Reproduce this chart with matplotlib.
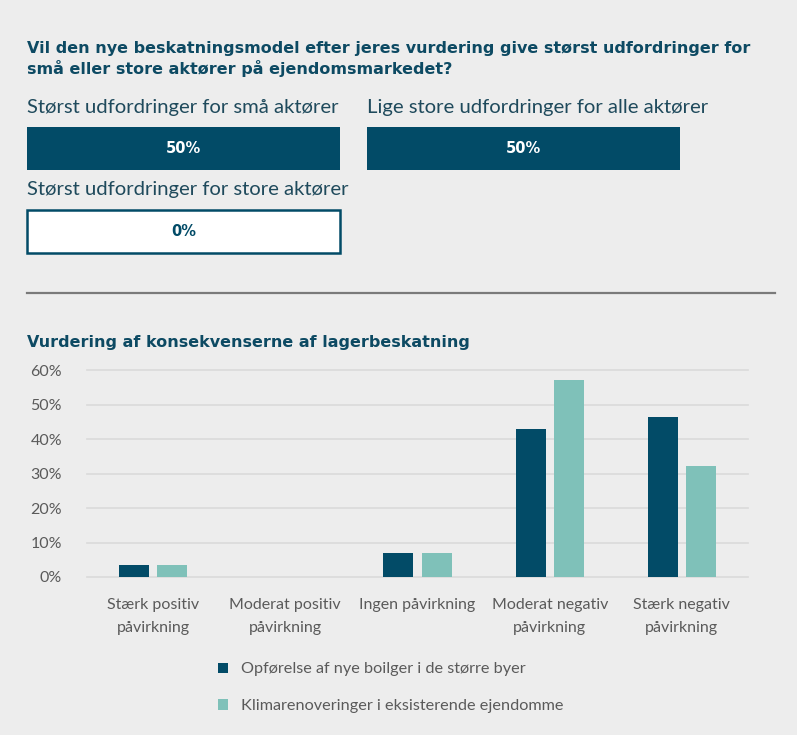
import numpy as np
import matplotlib.pyplot as plt
from matplotlib.patches import Rectangle

# colours
BG = '#ededed'
DARK = '#024b67'
LIGHT = '#7fc1b9'
TITLE_COL = '#0d4a63'
TEXT_COL = '#5a5a5a'

# top section data
question = ("Vil den nye beskatningsmodel efter jeres vurdering give størst udfordringer for\n"
            "små eller store aktører på ejendomsmarkedet?")
tile_labels = ["Størst udfordringer for små aktører",
               "Lige store udfordringer for alle aktører",
               "Størst udfordringer for store aktører"]
tile_values = [50, 50, 0]

# bar chart data
chart_title = "Vurdering af konsekvenserne af lagerbeskatning"
categories = ["Stærk positiv\npåvirkning", "Moderat positiv\npåvirkning", "Ingen påvirkning",
              "Moderat negativ\npåvirkning", "Stærk negativ\npåvirkning"]
series_names = ["Opførelse af nye boilger i de større byer",
                "Klimarenoveringer i eksisterende ejendomme"]
nybyg = [3.6, 0, 7.1, 42.9, 46.4]
klima = [3.6, 0, 7.1, 57.1, 32.1]
yticks = [0, 10, 20, 30, 40, 50, 60]

plt.rcParams['font.family'] = ['Lato', 'DejaVu Sans']
BOLD = ['DejaVu Sans']

W, H = 797, 735
fig = plt.figure(figsize=(W / 100, H / 100), dpi=100, facecolor=BG)


def fx(x):
    return x / W


def fy(y):
    return 1 - y / H


# question
fig.text(fx(27), fy(59), question, fontsize=11.5, fontweight='bold', family=BOLD,
         color=TITLE_COL, va='center', ha='left', linespacing=1.35)

# tiles: (label x, label y, box top)
tile_pos = [(27, 108, 127), (367, 108, 127), (27, 190, 210)]
box_w, box_h = 313, 43
for label, val, (x, y, top) in zip(tile_labels, tile_values, tile_pos):
    fig.text(fx(x), fy(y), label, fontsize=14.6, color='#1f4a5c', va='center', ha='left')
    filled = val > 0
    rect = Rectangle((fx(x), fy(top + box_h)), box_w / W, box_h / H, transform=fig.transFigure,
                     facecolor=DARK if filled else 'white', edgecolor=DARK,
                     linewidth=0 if filled else 1.8)
    fig.patches.append(rect)
    fig.text(fx(x + box_w / 2), fy(top + box_h / 2), f"{val}%", fontsize=10.5, fontweight='bold',
             family=BOLD, color='white' if filled else DARK, ha='center', va='center')

# divider
fig.add_artist(plt.Line2D([fx(27), fx(775)], [fy(293), fy(293)], transform=fig.transFigure,
                          color='#7a7a7a', linewidth=1.6))

fig.text(fx(27), fy(343), chart_title, fontsize=11.5, fontweight='bold', family=BOLD,
         color=TITLE_COL, va='center', ha='left')

# bar chart
ax = fig.add_axes([fx(87), fy(577), (748 - 87) / W, (577 - 370) / H])
ax.set_facecolor(BG)
x = np.arange(len(categories))
bw = 0.227
off = 0.144
ax.bar(x - off, nybyg, bw, color=DARK, label=series_names[0], zorder=3)
ax.bar(x + off, klima, bw, color=LIGHT, label=series_names[1], zorder=3)
ax.set_xlim(-0.5, 4.5)
ax.set_ylim(0, 60)
ax.set_yticks(yticks)
ax.set_yticklabels([f"{t}%" for t in yticks])
ax.set_xticks(x)
ax.set_xticklabels(categories, linespacing=1.85)
ax.tick_params(axis='both', length=0, labelsize=11.5, labelcolor=TEXT_COL)
ax.tick_params(axis='y', pad=18)
ax.tick_params(axis='x', pad=15)
for s in ax.spines.values():
    s.set_visible(False)
for t in yticks:
    ax.axhline(t, color='#dadada', linewidth=1.2, zorder=1, clip_on=False)

leg = fig.legend(loc='upper left', bbox_to_anchor=(fx(212), fy(656)), frameon=False,
                 fontsize=11.7, labelcolor=TEXT_COL, handlelength=0.6, handleheight=0.6,
                 handletextpad=0.8, labelspacing=1.4, borderaxespad=0)

fig.savefig('out.png', dpi=100, facecolor=BG)
